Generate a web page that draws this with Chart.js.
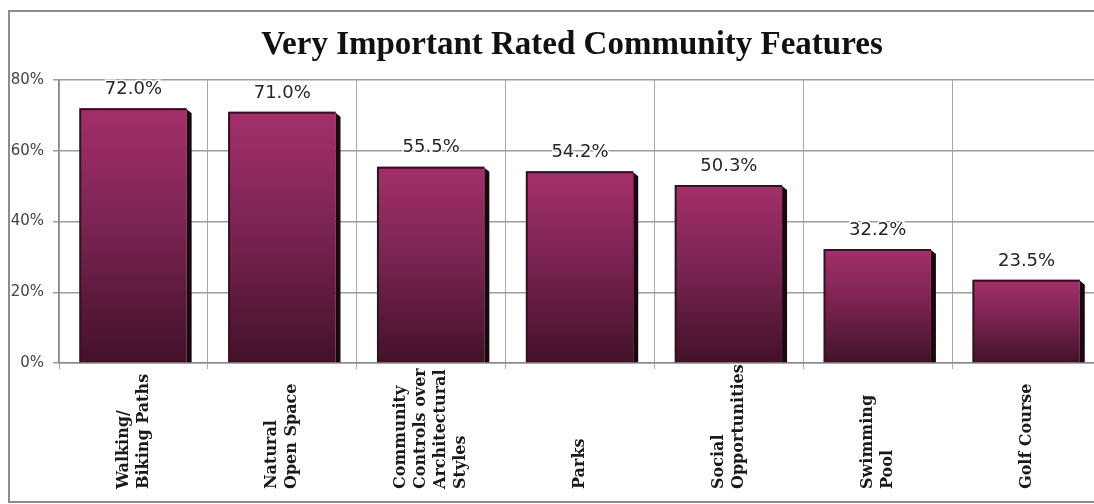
<!DOCTYPE html>
<html>
<head>
<meta charset="utf-8">
<script src="https://cdn.jsdelivr.net/npm/chart.js@4"></script>
<style>
    html, body { margin: 0; padding: 0; background: #fff; overflow: hidden; }
    #wrap { width: 1094px; height: 504px; overflow: hidden; }
</style>
</head>
<body>
<div id="wrap"><canvas id="featuresChart" width="1112" height="504"></canvas></div>
<script>
// categories (one entry per line of the rotated label)
const categories = [
    ["Walking/", "Biking Paths"],
    ["Natural", "Open Space"],
    ["Community", "Controls over", "Architectural", "Styles"],
    ["Parks"],
    ["Social", "Opportunities"],
    ["Swimming", "Pool"],
    ["Golf Course"]
];
const veryImportant = [72.0, 71.0, 55.5, 54.2, 50.3, 32.2, 23.5];
const yTicks = [0, 20, 40, 60, 80];
const chartTitle = "Very Important Rated Community Features";

// gradient for each bar, top magenta -> dark plum at the base
function barGradient(context) {
    const chart = context.chart;
    const y = chart.scales.y;
    if (!chart.chartArea || !y || context.dataIndex === undefined) return "#7a2452";
    const top = y.getPixelForValue(veryImportant[context.dataIndex]);
    const base = y.getPixelForValue(0);
    const g = chart.ctx.createLinearGradient(0, top, 0, base);
    g.addColorStop(0, "#a42f6a");
    g.addColorStop(0.45, "#7c2453");
    g.addColorStop(1, "#421128");
    return g;
}

const decorPlugin = {
    id: "decor",
    beforeDraw(chart) {
        const ctx = chart.ctx;
        ctx.save();
        ctx.fillStyle = "#fff";
        ctx.fillRect(0, 0, chart.width, chart.height);
        ctx.strokeStyle = "#8c8c8c";
        ctx.lineWidth = 2;
        ctx.strokeRect(9, 11, chart.width + 20, 491);
        ctx.restore();
    },
    afterDatasetsDraw(chart) {
        const ctx = chart.ctx;
        const bars = chart.getDatasetMeta(0).data;
        ctx.save();
        bars.forEach((bar, i) => {
            const left = bar.x - bar.width / 2;
            const right = bar.x + bar.width / 2;
            // 3d side shadow
            ctx.fillStyle = "#1a080f";
            ctx.beginPath();
            ctx.moveTo(right, bar.y + 1);
            ctx.lineTo(right + 5, bar.y + 5);
            ctx.lineTo(right + 5, bar.base);
            ctx.lineTo(right, bar.base);
            ctx.closePath();
            ctx.fill();
            // top and left edge
            ctx.strokeStyle = "#3a0d22";
            ctx.lineWidth = 2;
            ctx.beginPath();
            ctx.moveTo(left, bar.base);
            ctx.lineTo(left, bar.y + 1);
            ctx.lineTo(right, bar.y + 1);
            ctx.stroke();

            // value label
            ctx.font = "18px 'DejaVu Sans'";
            ctx.textAlign = "center";
            ctx.textBaseline = "middle";
            const txt = veryImportant[i].toFixed(1) + "%";
            ctx.strokeStyle = "#fff";
            ctx.lineWidth = 3;
            ctx.strokeText(txt, bar.x, bar.y - 19);
            ctx.fillStyle = "#262626";
            ctx.fillText(txt, bar.x, bar.y - 19);
        });
        ctx.restore();
    },
    afterDraw(chart) {
        const ctx = chart.ctx;
        const area = chart.chartArea;
        const xScale = chart.scales.x;
        ctx.save();
        // title
        ctx.font = "bold 33px 'Liberation Serif'";
        ctx.fillStyle = "#111";
        ctx.textAlign = "center";
        ctx.textBaseline = "middle";
        ctx.fillText(chartTitle, 572, 45);

        // rotated category labels, starting from the bottom
        ctx.font = "bold 16px 'DejaVu Serif'";
        ctx.fillStyle = "#1a1a1a";
        ctx.textAlign = "left";
        categories.forEach((lines, i) => {
            const cx = xScale.getPixelForValue(i);
            lines.forEach((line, j) => {
                const off = (j - (lines.length - 1) / 2) * 20;
                ctx.save();
                ctx.translate(cx + off, 489);
                ctx.rotate(-Math.PI / 2);
                ctx.fillText(line, 0, 0);
                ctx.restore();
            });
        });
        ctx.restore();
    }
};

const ctx = document.getElementById("featuresChart").getContext("2d");
new Chart(ctx, {
    type: "bar",
    data: {
        labels: categories.map(l => l.join(" ")),
        datasets: [{
            label: "Very Important",
            data: veryImportant,
            backgroundColor: barGradient,
            borderWidth: 0,
            barPercentage: 0.715,
            categoryPercentage: 1
        }]
    },
    options: {
        responsive: false,
        animation: false,
        layout: {
            padding: { left: 10, right: 11, top: 80, bottom: 135 }
        },
        plugins: {
            legend: { display: false },
            title: { display: false },
            tooltip: { enabled: false }
        },
        scales: {
            x: {
                offset: true,
                grid: {
                    offset: true,
                    color: "#a8a8a8",
                    lineWidth: 1,
                    tickLength: 6,
                    drawTicks: true
                },
                border: { color: "#8a8a8a", width: 1.5 },
                ticks: { display: false }
            },
            y: {
                min: 0,
                max: 80,
                afterBuildTicks(scale) {
                    scale.ticks = yTicks.map(v => ({ value: v }));
                },
                afterFit(scale) {
                    scale.width = 49;
                },
                grid: {
                    color: "#9c9c9c",
                    lineWidth: 1.5,
                    tickLength: 6
                },
                border: { color: "#8a8a8a", width: 1.5 },
                ticks: {
                    padding: 9,
                    color: "#444",
                    font: { family: "DejaVu Sans", size: 15 },
                    callback: (v) => v + "%"
                }
            }
        }
    },
    plugins: [decorPlugin]
});
</script>
</body>
</html>
